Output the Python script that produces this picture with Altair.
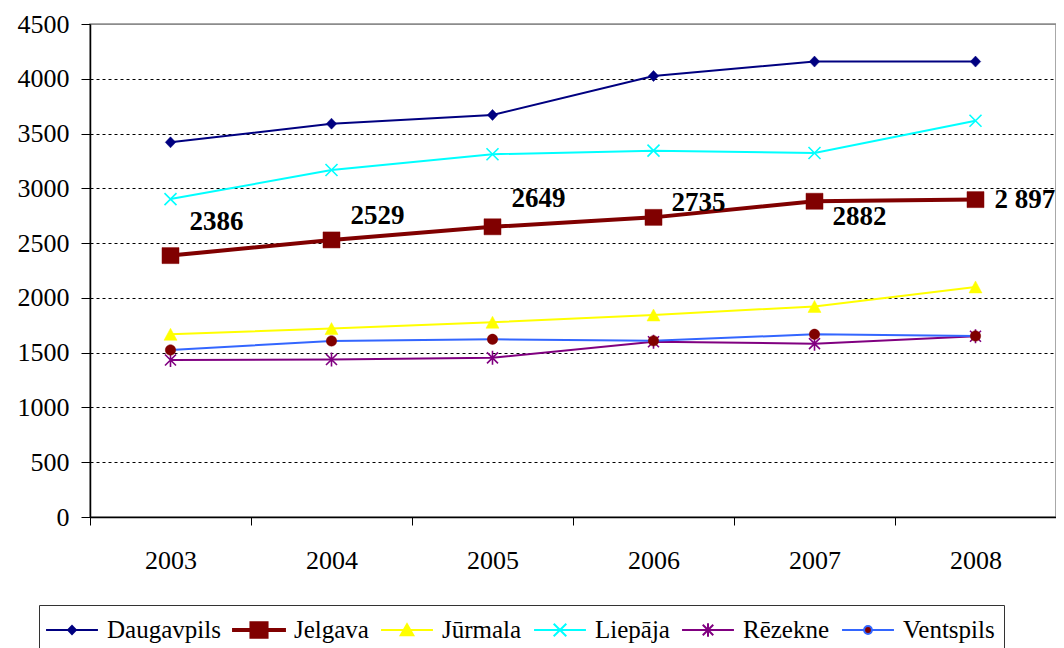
import altair as alt
import pandas as pd

# ---------------- data ----------------
years = ["2003", "2004", "2005", "2006", "2007", "2008"]
cities = ["Daugavpils", "Jelgava", "Jūrmala", "Liepāja", "Rēzekne", "Ventspils"]

daugavpils = [3420, 3590, 3670, 4025, 4157, 4157]
jelgava = [2386, 2529, 2649, 2735, 2882, 2897]
jurmala = [1668, 1720, 1778, 1844, 1922, 2100]
liepaja = [2902, 3167, 3311, 3344, 3322, 3617]
rezekne = [1433, 1438, 1453, 1600, 1582, 1650]
ventspils = [1524, 1607, 1622, 1608, 1668, 1652]

jelgava_labels = ["2386", "2529", "2649", "2735", "2882", "2 897"]
y_ticks = [0, 500, 1000, 1500, 2000, 2500, 3000, 3500, 4000, 4500]

series = [daugavpils, jelgava, jurmala, liepaja, rezekne, ventspils]
rows = []
for c, vals in zip(cities, series):
    for yr, v in zip(years, vals):
        rows.append({"city": c, "year": yr, "value": v})
df = pd.DataFrame(rows)
lab_df = pd.DataFrame({"year": years, "value": jelgava, "label": jelgava_labels})

# ---------------- styles ----------------
FONT = "Liberation Serif"
line_colors = ["#000080", "#800000", "#FFFF00", "#00FFFF", "#800080", "#3366FF"]
marker_colors = ["#000080", "#800000", "#FFFF00", "#00FFFF", "#800080", "#800000"]
line_widths = [2, 4, 2, 2, 2, 2]

plot_paths = [
    "M0,-0.55L0.52,0L0,0.55L-0.52,0Z",
    "M-0.85,-0.8H0.85V0.8H-0.85Z",
    "M0,-0.6L0.65,0.6L-0.65,0.6Z",
    "M-0.6,-0.6L0.6,0.6M-0.6,0.6L0.6,-0.6",
    "M-0.55,-0.55L0.55,0.55M-0.55,0.55L0.55,-0.55M0,-0.7L0,0.7",
    "M-0.52,0A0.52,0.52 0 1,0 0.52,0A0.52,0.52 0 1,0 -0.52,0Z",
]
plot_filled = [True, True, True, False, False, True]

legend_paths = [
    "M-1.73,0H1.73M0,-0.27L0.26,0L0,0.27L-0.26,0Z",
    "M-1.73,-0.07H1.73V0.07H-1.73ZM-0.57,-0.52H0.57V0.52H-0.57Z",
    "M-1.73,0H1.73M0,-0.38L0.42,0.35L-0.42,0.35Z",
    "M-1.73,0H1.73M-0.42,-0.42L0.42,0.42M-0.42,0.42L0.42,-0.42",
    "M-1.73,0H1.73M-0.35,-0.35L0.35,0.35M-0.35,0.35L0.35,-0.35M0,-0.45L0,0.45",
    "M-1.73,0H-0.26M0.26,0H1.73M-0.26,0A0.26,0.26 0 1,0 0.26,0A0.26,0.26 0 1,0 -0.26,0Z",
]

X = alt.X(
    "year:O",
    sort=years,
    title=None,
    scale=alt.Scale(type="band", paddingInner=0, paddingOuter=0),
    axis=alt.Axis(
        tickBand="extent", labelAngle=0, grid=False, tickSize=8,
        labelPadding=22, labelFontSize=26, labelFont=FONT, labelColor="black",
    ),
)
Y = alt.Y(
    "value:Q",
    title=None,
    scale=alt.Scale(domain=[0, 4500], nice=False, zero=True),
    axis=alt.Axis(
        values=y_ticks, format="d", tickSize=9, labelPadding=12, labelFontSize=26,
        labelFont=FONT, labelColor="black",
        grid=True,
        gridColor={"condition": {"test": "datum.value === 4500", "value": "#8c8c8c"}, "value": "#000000"},
        gridDash={"condition": {"test": "datum.value === 4500", "value": []}, "value": [3, 3]},
        gridWidth=1,
    ),
)

base = alt.Chart(df)
layers = []
for i, c in enumerate(cities):
    layers.append(
        base.transform_filter(alt.datum.city == c)
        .mark_line(color=line_colors[i], strokeWidth=line_widths[i])
        .encode(x=X, y=Y)
    )
for i, c in enumerate(cities):
    if plot_filled[i]:
        mk = dict(filled=True, fill=marker_colors[i], stroke=marker_colors[i], strokeWidth=0.5)
    else:
        mk = dict(filled=False, stroke=marker_colors[i], strokeWidth=1.6)
    layers.append(
        base.transform_filter(alt.datum.city == c)
        .mark_point(shape=plot_paths[i], size=400, opacity=1, **mk)
        .encode(x=X, y=Y)
    )

label_offsets = [(46, -34, "center"), (46, -24, "center"), (46, -28, "center"),
                 (45, -14, "center"), (45, 16, "center"), (19, 0, "left")]
for i, yr in enumerate(years):
    dx, dy, al = label_offsets[i]
    layers.append(
        alt.Chart(lab_df).transform_filter(alt.datum.year == yr)
        .mark_text(dx=dx, dy=dy, align=al, baseline="middle", font=FONT,
                   fontSize=27, fontWeight="bold", color="black")
        .encode(x=X, y=Y, text="label:N")
    )

leg = alt.Legend(
    title=None, orient="none", legendX=-51, legendY=581, direction="horizontal",
    columns=6, padding=9, strokeColor="#333333", fillColor="white",
    symbolSize=900, symbolStrokeWidth=2, symbolOpacity=1, symbolOffset=8,
    labelFont=FONT, labelFontSize=25, labelColor="black", labelOffset=19,
    columnPadding=8, labelLimit=300,
)
legend_layer = (
    alt.Chart(df).transform_filter("false")
    .mark_point(filled=True, strokeWidth=2, opacity=1)
    .encode(
        shape=alt.Shape("city:N", scale=alt.Scale(domain=cities, range=legend_paths), legend=leg),
        fill=alt.Fill("city:N", scale=alt.Scale(domain=cities, range=marker_colors), legend=leg),
        stroke=alt.Stroke("city:N", scale=alt.Scale(domain=cities, range=line_colors), legend=leg),
    )
)
layers.append(legend_layer)

chart = (
    alt.layer(*layers)
    .properties(
        width=966, height=493,
        autosize=alt.AutoSizeParams(type="none"),
        padding={"left": 82, "top": 16, "right": 0, "bottom": 131},
        background="white",
    )
    .configure_view(stroke="#8c8c8c", strokeWidth=1.5)
    .configure_axis(
        labelFont=FONT, labelColor="black", domainColor="black", domainWidth=1.5,
        tickColor="black", tickWidth=1,
    )
)

chart.save("out.html", embed_options={"renderer": "svg", "actions": False})
